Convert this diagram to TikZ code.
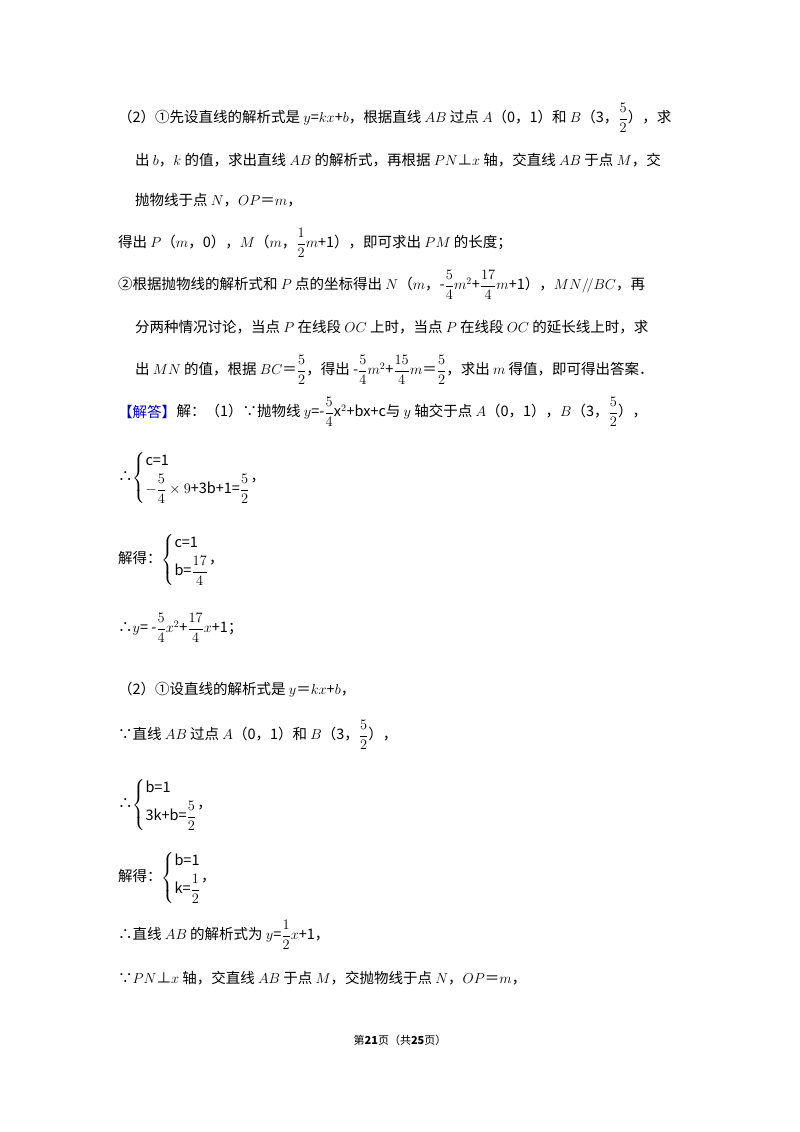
\documentclass[tikz,border=0pt]{standalone}
\usepackage{amsmath}
\usepackage{fontspec}
\setmainfont{Noto Sans CJK SC}
\usetikzlibrary{positioning}

\tikzset{
  ln/.style={anchor=west, inner sep=0pt, font=\fontsize{14.5}{18}\selectfont},
  tag/.style={ln, text=blue!75!black},
  foot/.style={inner sep=0pt, font=\fontsize{11}{13}\selectfont}
}
\newcommand{\fr}[2]{\dfrac{#1}{#2}}

\begin{document}
\begin{tikzpicture}[x=1pt, y=-1pt]

    \useasboundingbox (0,0) rectangle (800,1132);

    % Analysis
    \node[ln] (a1) at (118,118) {（2）①先设直线的解析式是 $y$=$kx$+$b$，根据直线 $AB$ 过点 $A$（0，1）和 $B$（3，$\fr{5}{2}$），求};
    \node[ln] (a2) at (135,160) {出 $b$，$k$ 的值，求出直线 $AB$ 的解析式，再根据 $PN$⊥$x$ 轴，交直线 $AB$ 于点 $M$，交};
    \node[ln] (a3) at (135,200) {抛物线于点 $N$，$OP$＝$m$，};
    \node[ln] (a4) at (118,243) {得出 $P$（$m$，0），$M$（$m$，$\fr{1}{2}m$+1），即可求出 $PM$ 的长度；};
    \node[ln] (a5) at (118,285) {②根据抛物线的解析式和 $P$ 点的坐标得出 $N$（$m$，-$\fr{5}{4}m^2$+$\fr{17}{4}m$+1），$MN/\!/BC$，再};
    \node[ln] (a6) at (135,327) {分两种情况讨论，当点 $P$ 在线段 $OC$ 上时，当点 $P$ 在线段 $OC$ 的延长线上时，求};
    \node[ln] (a7) at (135,370) {出 $MN$ 的值，根据 $BC$＝$\fr{5}{2}$，得出 -$\fr{5}{4}m^2$+$\fr{15}{4}m$＝$\fr{5}{2}$，求出 $m$ 得值，即可得出答案．};

    % Solution
    \node[tag] (s0) at (118,412) {【解答】};
    \node[ln, right=0pt of s0] (s1) {解：（1）∵抛物线 $y$=-$\fr{5}{4}$x$^2$+bx+c与 $y$ 轴交于点 $A$（0，1），$B$（3，$\fr{5}{2}$），};
    \node[ln] (s2) at (118,478) {∴$\left\{\begin{array}{@{}l@{}}\text{c=1}\\[4pt] -\fr{5}{4}\times 9\text{+3b+1=}\fr{5}{2}\end{array}\right.$，};
    \node[ln] (s3) at (118,560) {解得：$\left\{\begin{array}{@{}l@{}}\text{c=1}\\[4pt] \text{b=}\fr{17}{4}\end{array}\right.$，};
    \node[ln] (s4) at (118,628) {∴$y$= -$\fr{5}{4}x^2$+$\fr{17}{4}x$+1；};
    \node[ln] (s5) at (118,690) {（2）①设直线的解析式是 $y$＝$kx$+$b$，};
    \node[ln] (s6) at (118,735) {∵直线 $AB$ 过点 $A$（0，1）和 $B$（3，$\fr{5}{2}$），};
    \node[ln] (s7) at (118,805) {∴$\left\{\begin{array}{@{}l@{}}\text{b=1}\\[4pt] \text{3k+b=}\fr{5}{2}\end{array}\right.$，};
    \node[ln] (s8) at (118,878) {解得：$\left\{\begin{array}{@{}l@{}}\text{b=1}\\[4pt] \text{k=}\fr{1}{2}\end{array}\right.$，};
    \node[ln] (s9) at (118,935) {∴直线 $AB$ 的解析式为 $y$=$\fr{1}{2}x$+1，};
    \node[ln] (s10) at (118,978) {∵$PN$⊥$x$ 轴，交直线 $AB$ 于点 $M$，交抛物线于点 $N$，$OP$＝$m$，};

    % Footer
    \node[foot] (pg) at (400,1040) {第\textbf{21}页（共\textbf{25}页）};

\end{tikzpicture}
\end{document}
